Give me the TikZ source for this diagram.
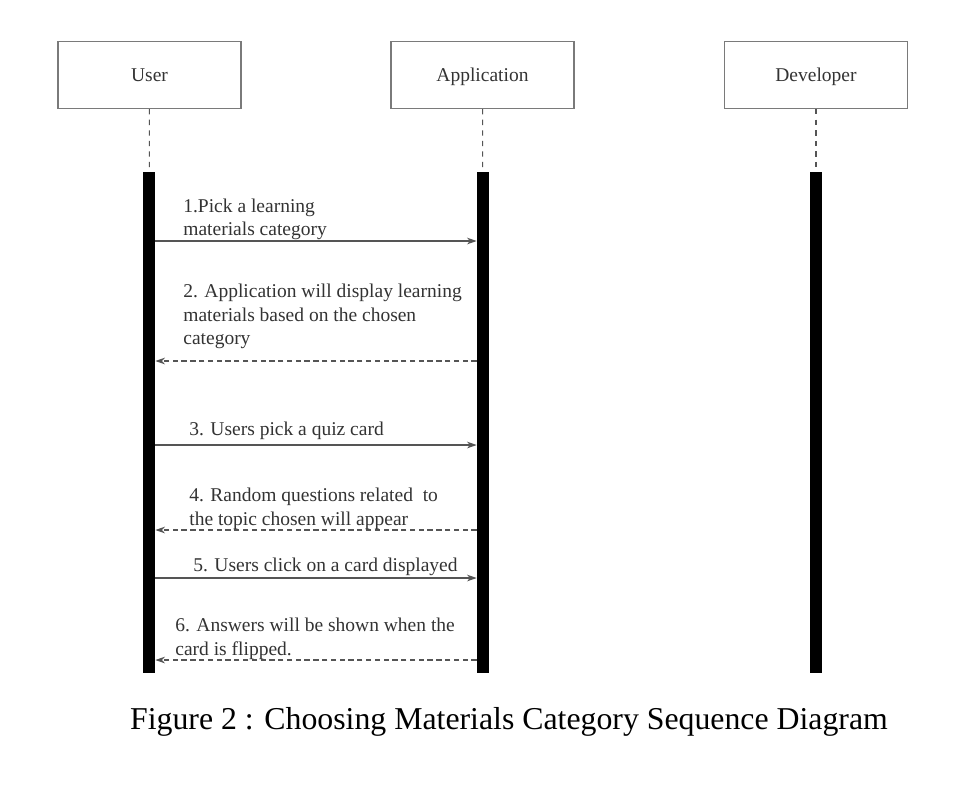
\documentclass[tikz,border=0pt]{standalone}
\usepackage{fontspec}
\setmainfont{Liberation Serif}
\usetikzlibrary{arrows.meta,positioning}
\definecolor{txtgray}{HTML}{333333}
\definecolor{boxgray}{HTML}{7A7A7A}
\definecolor{linegray}{HTML}{555555}

\begin{document}
\begin{tikzpicture}[x=0.02cm,y=-0.02cm,
    actor/.style={draw=boxgray, line width=0.8pt, minimum width=3.66cm, minimum height=1.34cm, text depth=0pt, text=txtgray, font=\fontsize{11.1}{12}\selectfont},
    lifebar/.style={fill=black, inner sep=0pt, minimum width=0.24cm, minimum height=10.02cm},
    lifeline/.style={draw=linegray, line width=0.6pt, dashed},
    call/.style={draw=linegray, line width=0.6pt, -{Stealth[length=5.5pt,width=3.8pt]}},
    reply/.style={call, dash pattern=on 3pt off 2pt},
    msgtext/.style={anchor=south west, inner sep=0pt, align=left, text=txtgray, font=\fontsize{11.1}{13.6}\selectfont}]

    \useasboundingbox[fill=white] (0,0) rectangle (972,792); %Page

    %Actors
    \node[actor] (user) at (149.5,75) {User};
    \node[actor] (app) at (482.5,75) {Application};
    \node[actor] (dev) at (816,75) {Developer};

    %Activation bars
    \node[lifebar] (userbar) at (149,422.5) {};
    \node[lifebar] (appbar) at (483,422.5) {};
    \node[lifebar] (devbar) at (816,422.5) {};

    %Lifelines
    \draw[lifeline] (user) -- (userbar);
    \draw[lifeline] (app) -- (appbar);
    \draw[lifeline] (dev) -- (devbar);

    %Messages
    \draw[call] (userbar.east |- 0,241) -- (appbar.west |- 0,241); %1
    \node[msgtext] (m1) at (183,240.5) {1.Pick a learning\\materials category};

    \draw[reply] (appbar.west |- 0,361) -- (userbar.east |- 0,361); %2
    \node[msgtext] (m2) at (183,349.5) {2. Application will display learning\\materials based on the chosen\\category};

    \draw[call] (userbar.east |- 0,445) -- (appbar.west |- 0,445); %3
    \node[msgtext] (m3) at (189,439.5) {3. Users pick a quiz card};

    \draw[reply] (appbar.west |- 0,530) -- (userbar.east |- 0,530); %4
    \node[msgtext] (m4) at (189,529.5) {4. Random questions related\ \ to\\the topic chosen will appear};

    \draw[call] (userbar.east |- 0,578) -- (appbar.west |- 0,578); %5
    \node[msgtext] (m5) at (193,576.5) {5. Users click on a card displayed};

    \draw[reply] (appbar.west |- 0,660) -- (userbar.east |- 0,660); %6
    \node[msgtext] (m6) at (175,659.5) {6. Answers will be shown when the\\card is flipped.};

    %Caption
    \node[anchor=base, font=\fontsize{18.1}{22}\selectfont] (caption) at (509,729) {Figure 2 : Choosing Materials Category Sequence Diagram};

\end{tikzpicture}
\end{document}
